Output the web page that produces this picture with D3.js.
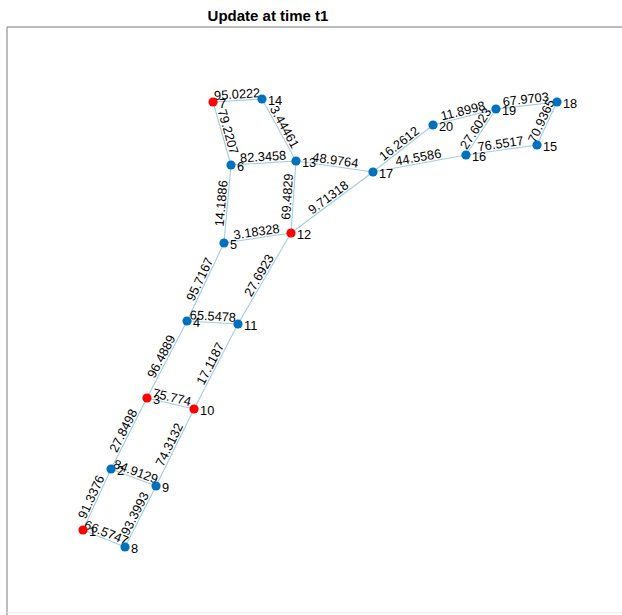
<!DOCTYPE html>
<html>
<head>
<meta charset="utf-8">
<script src="https://cdn.jsdelivr.net/npm/d3@7"></script>
<style>
body { margin: 0; background: #fff; }
</style>
</head>
<body>
<div id="chart"></div>
<script>
// node ids and positions (data units)
var nodeIds = [1,2,3,4,5,6,7,8,9,10,11,12,13,14,15,16,17,18,19,20];
var nodeX = [12.36,16.91,22.76,29.27,35.28,36.42,33.50,19.19,24.23,30.41,37.56,46.18,46.99,41.46,86.18,74.63,59.51,89.43,79.51,69.27];
var nodeY = [14.16,24.57,36.69,49.83,63.14,76.45,87.20,11.26,21.67,34.81,49.32,64.85,77.13,87.71,79.86,78.16,75.26,87.20,86.01,83.28];
// nodes updated at t1
var updated = [1,3,7,10,12];

// edges and weights
var edgeSrc = [1,1,2,2,3,3,4,4,5,5,6,6,7,14,13,13,12,12,11,10,9,17,17,20,16,16,19,18];
var edgeDst = [2,8,3,9,4,10,5,11,6,12,7,13,14,13,12,17,17,11,10,9,8,20,16,19,19,15,18,15];
var edgeW = ["91.3376","66.5747","27.8498","84.9129","96.4889","75.774","95.7167","65.5478","14.1886","3.18328",
  "79.2207","82.3458","95.0222","3.44461","69.4829","48.9764","9.71318","27.6923","17.1187","74.3132",
  "93.3993","16.2612","44.5586","11.8998","27.6023","76.5517","67.9703","70.9365"];

var W = 622, H = 615;
var svg = d3.select("#chart")
	.append("svg")
	.attr("width", W)
	.attr("height", H);

var x = d3.scaleLinear().domain([0,100]).range([7,622]);
var y = d3.scaleLinear().domain([0,100]).range([613,27]);

// axes box
svg.append("line")
	.attr("x1",7).attr("y1",27).attr("x2",622).attr("y2",27)
	.attr("stroke","#a6a6a6").attr("stroke-width",1.5);
svg.append("line")
	.attr("x1",7).attr("y1",27).attr("x2",7).attr("y2",615)
	.attr("stroke","#a6a6a6").attr("stroke-width",1.5);
svg.append("line")
	.attr("x1",7).attr("y1",612.5).attr("x2",622).attr("y2",612.5)
	.attr("stroke","#efefef").attr("stroke-width",1);

svg.append("text")
	.attr("x",268)
	.attr("y",21)
	.attr("text-anchor","middle")
	.attr("font-family","Liberation Sans, Arial, sans-serif")
	.attr("font-weight","bold")
	.attr("font-size","15px")
	.text("Update at time t1");

var pos = {};
nodeIds.forEach(function(id,i) { pos[id] = [x(nodeX[i]), y(nodeY[i])]; });

var edges = edgeSrc.map(function(s,i) { return {s:s, t:edgeDst[i], w:edgeW[i]}; });

svg.selectAll(".edge")
	.data(edges)
	.enter().append("line")
	.attr("class","edge")
	.attr("x1",function(d){ return pos[d.s][0]; })
	.attr("y1",function(d){ return pos[d.s][1]; })
	.attr("x2",function(d){ return pos[d.t][0]; })
	.attr("y2",function(d){ return pos[d.t][1]; })
	.attr("stroke","#a3cce2")
	.attr("stroke-width",1.1);

// edge labels, rotated along the edge and kept readable
svg.selectAll(".elab")
	.data(edges)
	.enter().append("text")
	.attr("class","elab")
	.attr("transform",function(d){
		var a = pos[d.s], b = pos[d.t];
		var ang = Math.atan2(b[1]-a[1], b[0]-a[0]) * 180 / Math.PI;
		if (ang > 90) ang -= 180;
		if (ang <= -90) ang += 180;
		return "translate(" + (a[0]+b[0])/2 + "," + (a[1]+b[1])/2 + ") rotate(" + ang + ")";
	})
	.attr("y",-2)
	.attr("text-anchor","middle")
	.attr("font-family","Liberation Sans, Arial, sans-serif")
	.attr("font-size","12.8px")
	.attr("fill","#000")
	.text(function(d){ return d.w; });

var nodes = nodeIds.map(function(id,i){ return {id:id, x:nodeX[i], y:nodeY[i]}; });

svg.selectAll(".node")
	.data(nodes)
	.enter().append("circle")
	.attr("class","node")
	.attr("cx",function(d){ return x(d.x); })
	.attr("cy",function(d){ return y(d.y); })
	.attr("r",4.6)
	.attr("fill",function(d){ return updated.indexOf(d.id) >= 0 ? "#ff0000" : "#0072bd"; });

svg.selectAll(".nlab")
	.data(nodes)
	.enter().append("text")
	.attr("class","nlab")
	.attr("x",function(d){ return x(d.x) + 6; })
	.attr("y",function(d){ return y(d.y) + 6; })
	.attr("font-family","Liberation Sans, Arial, sans-serif")
	.attr("font-size","12.8px")
	.attr("fill","#000")
	.text(function(d){ return d.id; });
</script>
</body>
</html>
